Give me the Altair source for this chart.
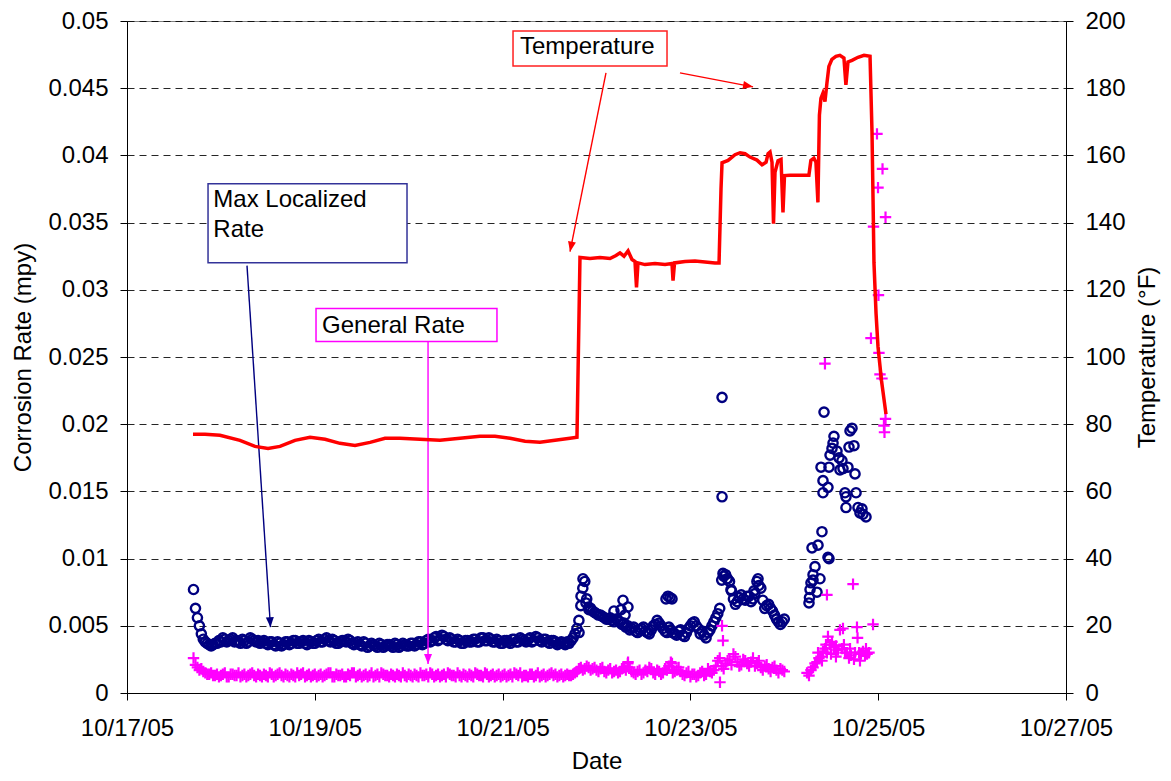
import math
import altair as alt
import pandas as pd

FONT = "Liberation Sans"

# ---------------- data ----------------
# Readings on the hour starting 10/17/05 17:00 (values in 0.001 mpy)
HOURLY_START = "2005-10-17 17:00"
max_localized_hourly = [
    7.7, 5.6, 4.4, 3.8, 3.6, 3.6, 3.7,
    3.8, 4.0, 3.9, 4.1, 3.9, 3.7, 3.9, 3.8, 4.0, 3.8, 3.7, 3.9, 3.6, 3.8, 3.5, 3.7, 3.6, 3.8, 3.7, 3.9, 3.7, 3.9, 3.6, 3.8,
    3.7, 4.0, 3.8, 4.1, 3.8, 3.9, 3.7, 3.9, 3.8, 3.9, 3.6, 3.8, 3.5, 3.7, 3.5, 3.6, 3.4, 3.6, 3.5, 3.6, 3.4, 3.6, 3.5, 3.6,
    3.5, 3.7, 3.6, 3.8, 3.7, 4.0, 3.9, 4.2, 4.0, 4.2, 3.9, 4.0, 3.8, 3.9, 3.7, 3.9, 3.8, 4.0, 3.8, 4.1, 3.9, 4.0, 3.8, 3.9,
    3.7, 3.9, 3.7, 4.0, 3.8, 4.0, 3.8, 4.1, 3.9, 4.1, 3.8, 4.0, 3.7, 3.9, 3.6, 3.8, 3.6, 3.7, 4.1, 4.8, 6.5, 8.3, 6.4, 6.1,
    5.9, 5.8, 5.6, 5.5, 5.4, 5.5, 5.3, 5.2, 5.0, 4.8, 4.6, 4.7, 4.9, 4.5, 4.7, 5.1, 5.2, 4.8, 4.5, 4.7, 4.4, 4.6, 4.3, 4.5,
    5.0, 5.3, 4.8, 4.6, 4.1, 4.7, 5.3, 5.9, 8.4, 8.8, 8.3, 7.0, 6.8, 7.3, 6.9, 7.2, 7.0, 8.3, 7.8, 6.3, 6.6, 6.1, 5.5, 5.1, 5.5,
]
general_hourly = [
    2.6, 1.9, 1.8, 1.5, 1.4, 1.3, 1.4,
    1.3, 1.5, 1.2, 1.4, 1.3, 1.2, 1.4, 1.3, 1.5, 1.2, 1.3, 1.4, 1.2, 1.4, 1.3, 1.5, 1.2, 1.3, 1.4, 1.2, 1.3, 1.5, 1.3, 1.2,
    1.4, 1.3, 1.2, 1.4, 1.5, 1.2, 1.3, 1.4, 1.2, 1.3, 1.5, 1.3, 1.2, 1.4, 1.3, 1.2, 1.4, 1.5, 1.3, 1.2, 1.3, 1.4, 1.2, 1.3,
    1.4, 1.2, 1.3, 1.5, 1.3, 1.2, 1.4, 1.3, 1.2, 1.4, 1.5, 1.3, 1.2, 1.3, 1.4, 1.2, 1.3, 1.5, 1.3, 1.2, 1.4, 1.3, 1.2, 1.4,
    1.3, 1.2, 1.4, 1.5, 1.3, 1.2, 1.3, 1.4, 1.2, 1.5, 1.3, 1.2, 1.4, 1.3, 1.2, 1.4, 1.3, 1.3, 1.4, 1.6, 1.9, 1.8, 1.9, 1.8,
    1.7, 1.8, 1.6, 1.7, 1.5, 1.7, 1.6, 1.9, 2.2, 1.6, 1.4, 1.7, 1.5, 1.6, 1.8, 1.4, 1.6, 1.5, 1.7, 2.3, 1.6, 1.9, 1.4, 1.5,
    1.2, 1.4, 1.3, 1.6, 1.4, 1.6, 1.7, 2.4, 2.0, 2.2, 2.5, 2.9, 2.3, 2.1, 2.4, 2.0, 2.6, 2.2, 1.9, 2.0, 1.8, 1.9, 1.7, 1.8, 1.6,
]

# Readings on the half hour starting 10/17/05 17:30 (values in 0.001 mpy)
HALFHOUR_START = "2005-10-17 17:30"
max_localized_halfhour = [
    6.3, 5.0, 4.0, 3.7, 3.5, 3.7, 3.9,
    4.1, 3.8, 4.0, 3.8, 3.8, 4.0, 3.7, 4.1, 3.9, 3.9, 3.8, 3.7, 3.8, 3.6, 3.8, 3.5, 3.8, 3.6, 3.9, 3.7, 3.8, 3.7, 3.9, 3.7,
    3.9, 3.8, 4.0, 3.9, 4.0, 3.7, 3.8, 3.9, 4.0, 3.7, 3.7, 3.6, 3.8, 3.4, 3.7, 3.5, 3.7, 3.4, 3.6, 3.5, 3.7, 3.4, 3.7, 3.5,
    3.7, 3.5, 3.8, 3.6, 3.9, 3.8, 4.1, 3.9, 4.3, 4.0, 4.1, 3.8, 4.0, 3.7, 3.9, 3.8, 4.0, 3.8, 4.1, 3.9, 4.1, 3.8, 4.0, 3.7,
    3.9, 3.8, 4.0, 3.8, 4.1, 3.9, 4.0, 3.8, 4.2, 3.9, 4.0, 3.8, 3.9,
    3.8, 3.7, 3.7, 3.8, 3.9, 4.4, 5.4, 7.8, 7.0, 6.3,
    6.0, 5.8, 5.7, 5.5, 5.6, 5.3, 5.4, 5.1, 4.9, 4.7,
    4.9, 4.5, 4.8, 4.6, 4.4, 5.0, 5.4, 5.0, 4.6, 4.9,
    4.5, 4.3, 4.7, 4.2, 4.8, 5.2, 5.0, 4.4, 4.3, 4.5,
    5.0, 5.6, 6.3, 8.7, 8.5, 7.6, 6.6, 7.1, 7.0, 7.2,
    6.8, 7.4, 8.0, 6.9, 6.5, 6.3, 5.8, 5.3, 5.3,
]
general_halfhour = [
    2.1, 1.7, 1.6, 1.4, 1.5, 1.3, 1.2,
    1.4, 1.2, 1.4, 1.3, 1.5, 1.3, 1.2, 1.4, 1.3, 1.4, 1.2, 1.3, 1.5, 1.2, 1.4, 1.3, 1.4, 1.2, 1.3, 1.5, 1.4, 1.2, 1.4, 1.3,
    1.2, 1.4, 1.3, 1.5, 1.2, 1.4, 1.3, 1.2, 1.4, 1.5, 1.2, 1.4, 1.3, 1.2, 1.5, 1.3, 1.2, 1.4, 1.3, 1.4, 1.2, 1.3, 1.5, 1.2,
    1.3, 1.4, 1.2, 1.3, 1.4, 1.5, 1.2, 1.4, 1.3, 1.2, 1.4, 1.3, 1.5, 1.2, 1.3, 1.4, 1.2, 1.4, 1.3, 1.5, 1.2, 1.4, 1.3, 1.2,
    1.4, 1.3, 1.2, 1.4, 1.5, 1.3, 1.2, 1.4, 1.3, 1.2, 1.4, 1.3, 1.5,
    1.4, 1.3, 1.2, 1.4, 1.3, 1.5, 1.8, 1.7, 2.0, 1.7,
    1.9, 1.6, 1.9, 1.5, 1.8, 1.6, 1.5, 1.8, 1.7, 1.9,
    1.5, 1.6, 1.4, 1.7, 1.9, 1.5, 1.7, 1.4, 1.8, 2.0,
    1.5, 1.7, 1.6, 1.3, 1.6, 1.4, 1.2, 1.5, 1.3, 1.8,
    1.5, 2.0, 2.6, 1.8, 2.4, 2.1, 2.7, 2.0, 2.5, 2.2,
    2.3, 2.0, 2.4, 1.7, 2.1, 1.6, 2.0, 1.5, 1.7,
]

# Irregular readings: day of October 2005 (fractional) and value (0.001 mpy)
max_localized_extra_day = [
    21.814, 21.835, 21.856, 21.888, 21.920, 22.186, 22.261, 22.282, 22.304, 22.335,
    22.740, 22.761, 22.783, 22.804, 23.337, 23.337, 23.347, 23.390, 23.432, 23.677, 23.720,
    24.263, 24.268, 24.274, 24.284, 24.306, 24.327, 24.295, 24.359, 24.401, 24.465, 24.476, 24.380, 24.306, 24.348,
    24.423, 24.391, 24.476, 24.412, 24.465, 24.412, 24.487, 24.508, 24.519, 24.529,
    24.561, 24.583, 24.614, 24.593, 24.625, 24.678, 24.753, 24.700, 24.721, 24.689,
    24.742, 24.646, 24.657, 24.657, 24.764, 24.785, 24.806, 24.838, 24.870, 24.827,
]
max_localized_extra_val = [
    4.5, 7.2, 8.5, 6.7, 6.2, 6.1, 6.2, 6.9, 5.8, 6.4,
    7.0, 7.2, 7.1, 7.0, 22.0, 14.6, 8.9, 8.5, 7.7, 7.6, 8.5,
    6.7, 7.1, 7.7, 8.2, 8.8, 9.4, 10.8, 11.0, 12.0, 10.1, 10.0, 8.5, 8.4, 7.5,
    20.9, 16.8, 16.8, 15.8, 15.3, 14.9, 17.7, 18.2, 18.6, 19.1,
    18.0, 17.5, 17.3, 16.6, 16.7, 16.8, 16.3, 19.5, 19.7, 18.3,
    18.4, 14.9, 14.6, 13.8, 14.9, 13.8, 13.4, 13.3, 13.1, 13.7,
]
general_extra_day = [
    23.337, 23.347, 23.315, 22.336, 22.804,
    24.242, 24.263, 24.284, 24.306, 24.327, 24.348, 24.369, 24.391, 24.412, 24.433,
    24.454, 24.465, 24.487, 24.508, 24.529, 24.550, 24.571, 24.593, 24.614, 24.625,
    24.646, 24.668, 24.689, 24.710, 24.732, 24.753, 24.774, 24.780, 24.796, 24.817,
    24.838, 24.859, 24.881, 24.902, 24.945, 24.454, 24.433,
    24.359, 24.401, 24.444, 24.497, 24.550, 24.635, 24.700, 24.742, 24.806, 24.870,
    24.923, 24.950, 24.987, 24.998, 25.046, 25.078, 25.003, 25.008, 25.019, 25.040, 25.078, 25.061, 25.067,
]
general_extra_val = [
    5.0, 3.9, 0.8, 2.3, 2.2,
    1.5, 1.3, 1.7, 1.9, 2.2, 2.3, 2.6, 2.7, 3.1, 3.3,
    3.0, 4.2, 3.6, 3.8, 3.4, 3.5, 3.2, 4.7, 3.3, 4.8,
    3.0, 3.0, 2.6, 2.8, 8.1, 3.0, 4.9, 4.1, 3.0, 2.9,
    3.1, 2.8, 2.9, 3.0, 5.1, 7.3, 24.5,
    3.0, 2.4, 3.6, 2.9, 2.7, 3.6, 3.3, 2.5, 2.4, 3.3,
    26.4, 34.7, 41.6, 37.6, 39.0, 35.4, 29.6, 25.3, 23.7, 23.4, 20.4, 19.9, 19.4,
]

# Temperature (deg F), day of October 2005
temp_day = [
    17.703, 17.831, 17.990, 18.203, 18.363, 18.502, 18.629, 18.789, 18.949, 19.109,
    19.268, 19.428, 19.588, 19.748, 19.907, 20.120, 20.333, 20.546, 20.759, 20.919,
    21.079, 21.239, 21.398, 21.558, 21.718, 21.792, 21.824,
    21.931, 22.037, 22.144, 22.208, 22.250, 22.293, 22.336, 22.378, 22.410, 22.426,
    22.442, 22.517, 22.623, 22.730, 22.804, 22.815, 22.831, 22.943, 23.049, 23.156,
    23.262, 23.305, 23.326, 23.337, 23.401, 23.475, 23.529, 23.582, 23.635, 23.709,
    23.763, 23.806, 23.827, 23.848, 23.869, 23.885, 23.901, 23.933, 23.965, 23.986,
    24.002, 24.061, 24.167, 24.262, 24.283, 24.315, 24.337, 24.358, 24.374, 24.390,
    24.411, 24.433, 24.454, 24.475, 24.507, 24.550, 24.592, 24.635, 24.656, 24.678,
    24.721, 24.785, 24.849, 24.913, 24.934, 24.945, 24.955, 24.977, 24.998, 25.035,
    25.083,
]
temp_f = [
    77.0, 77.0, 76.7, 75.2, 73.4, 72.8, 73.4, 75.2, 76.1, 75.5,
    74.3, 73.7, 74.6, 75.8, 75.8, 75.5, 75.2, 75.8, 76.4, 76.4,
    75.8, 74.9, 74.6, 75.2, 75.8, 76.1, 129.6,
    129.3, 129.6, 129.3, 130.2, 131.0, 130.0, 131.6, 129.0, 128.4, 120.7,
    128.0, 127.5, 127.8, 127.5, 127.8, 122.7, 128.0, 128.4, 128.6, 128.3,
    128.0, 128.0, 150.0, 157.8, 158.5, 160.2, 160.8, 160.5, 159.5, 158.6,
    157.2, 158.0, 160.5, 161.0, 158.0, 139.7, 155.0, 158.4, 158.8, 143.0,
    154.0, 154.1, 154.1, 154.1, 158.5, 159.2, 158.0, 146.0, 172.0, 177.0,
    178.5, 176.0, 181.5, 186.5, 188.6, 189.5, 189.8, 189.0, 181.0, 187.8,
    188.3, 189.2, 189.8, 189.5, 167.0, 147.0, 128.0, 113.0, 103.0, 93.0,
    83.0,
]

# Annotations (day of October 2005, corrosion-rate axis values in mpy)
box_day1 = [21.111, 17.863, 19.013]
box_day2 = [22.751, 19.982, 20.940]
box_top = [0.04926, 0.03789, 0.02860]
box_bottom = [0.04666, 0.03202, 0.02615]
box_color = ["#FF2020", "#333399", "#FF00FF"]

label_text = ["Temperature", "Max Localized", "Rate", "General Rate"]
label_day = [21.185, 17.919, 17.919, 19.077]
label_val = [0.04753, 0.03618, 0.03390, 0.02675]

arrow_start_day = [22.101, 22.889, 18.278, 20.206]
arrow_start_val = [0.04614, 0.04614, 0.03180, 0.02615]
arrow_tip_day = [21.718, 23.667, 18.528, 20.206]
arrow_tip_val = [0.03284, 0.04510, 0.00490, 0.00215]
arrow_color = ["#FF0000", "#FF0000", "#000080", "#FF00FF"]

# ---------------- build ----------------
W, H = 939, 672
X_DAYS, Y_MAX = 10.0, 0.05
BASE = pd.Timestamp("2005-10-01")


def to_ts(days):
    return [(BASE + pd.to_timedelta(d - 1, unit="D")).round("s") for d in days]


def series_times(start, values):
    return list(pd.date_range(start, periods=len(values), freq="h"))


circ_df = pd.DataFrame({
    "t": series_times(HOURLY_START, max_localized_hourly)
    + series_times(HALFHOUR_START, max_localized_halfhour)
    + to_ts(max_localized_extra_day),
    "rate": [v / 1000 for v in max_localized_hourly + max_localized_halfhour + max_localized_extra_val],
})
plus_df = pd.DataFrame({
    "t": series_times(HOURLY_START, general_hourly)
    + series_times(HALFHOUR_START, general_halfhour)
    + to_ts(general_extra_day),
    "rate": [v / 1000 for v in general_hourly + general_halfhour + general_extra_val],
})
temp_df = pd.DataFrame({"t": to_ts(temp_day), "temp": temp_f})

box_df = pd.DataFrame({
    "t": to_ts(box_day1), "t2": to_ts(box_day2),
    "rate": box_top, "rate2": box_bottom, "col": box_color,
})
label_df = pd.DataFrame({"t": to_ts(label_day), "rate": label_val, "txt": label_text})

angles = []
for sd, sv, td, tv in zip(arrow_start_day, arrow_start_val, arrow_tip_day, arrow_tip_val):
    dx = (td - sd) * W / X_DAYS
    dy = -(tv - sv) * H / Y_MAX
    angles.append(math.degrees(math.atan2(-dx, dy)) % 360)

arrow_df = pd.DataFrame({
    "t": to_ts(arrow_start_day), "t2": to_ts(arrow_tip_day),
    "rate": arrow_start_val, "rate2": arrow_tip_val, "col": arrow_color,
})
head_df = pd.DataFrame({
    "t": to_ts(arrow_tip_day), "rate": arrow_tip_val, "col": arrow_color, "ang": angles,
})


def dt(d):
    return alt.DateTime(year=2005, month=10, date=d)


x_enc = alt.X(
    "t:T",
    scale=alt.Scale(domain=[dt(17), dt(27)]),
    axis=alt.Axis(
        title="Date", format="%m/%d/%y", values=[dt(d) for d in (17, 19, 21, 23, 25, 27)],
        grid=False, labelFlush=False, labelOverlap=False, tickSize=7,
        labelPadding=16, titlePadding=9,
    ),
)
y_enc = alt.Y(
    "rate:Q",
    scale=alt.Scale(domain=[0, Y_MAX]),
    axis=alt.Axis(
        title="Corrosion Rate (mpy)",
        values=[0, 0.005, 0.01, 0.015, 0.02, 0.025, 0.03, 0.035, 0.04, 0.045, 0.05],
        format=".3~f", grid=True, gridDash=[7, 5], gridColor="#000000", gridOpacity=0.85,
        gridWidth=1, tickSize=7, labelPadding=12, titlePadding=12,
    ),
)
y_temp = alt.Y(
    "temp:Q",
    scale=alt.Scale(domain=[0, 200]),
    axis=alt.Axis(
        orient="right", title="Temperature (°F)", values=list(range(0, 201, 20)),
        grid=False, tickSize=7, labelPadding=12, titlePadding=34, titleAngle=270,
    ),
)

circles = alt.Chart(circ_df).mark_point(
    shape="circle", filled=False, color="#000080", size=85, strokeWidth=2.4, opacity=1
).encode(x=x_enc, y=y_enc)

pluses = alt.Chart(plus_df).mark_point(
    shape="M-1,0L1,0M0,-1L0,1", filled=False, color="#FF00FF", size=130, strokeWidth=2.2, opacity=1
).encode(x=x_enc, y=y_enc)

boxes = alt.Chart(box_df).mark_rect(fill="white", strokeWidth=1.5).encode(
    x=x_enc, x2="t2:T", y=y_enc, y2="rate2:Q", stroke=alt.Stroke("col:N", scale=None)
)
labels = alt.Chart(label_df).mark_text(
    align="left", baseline="alphabetic", font=FONT, fontSize=24, color="black"
).encode(x=x_enc, y=y_enc, text="txt:N")

arrows = alt.Chart(arrow_df).mark_rule(strokeWidth=1.4).encode(
    x=x_enc, x2="t2:T", y=y_enc, y2="rate2:Q", color=alt.Color("col:N", scale=None)
)
heads = alt.Chart(head_df).mark_point(
    shape="M0,0L-0.8,-2L0.8,-2Z", filled=True, size=100, opacity=1, strokeWidth=0
).encode(
    x=x_enc, y=y_enc, color=alt.Color("col:N", scale=None), angle=alt.Angle("ang:Q", scale=None)
)

left = alt.layer(circles, pluses, boxes, labels, arrows, heads)

temp_line = alt.Chart(temp_df).mark_line(color="#FF0000", strokeWidth=3.5).encode(x=x_enc, y=y_temp)

chart = (
    alt.layer(left, temp_line)
    .resolve_scale(y="independent")
    .properties(
        width=W, height=H,
        autosize=alt.AutoSizeParams(type="none"),
        padding={"left": 119, "top": 13, "right": 95, "bottom": 80},
        background="white",
    )
    .configure_view(stroke="#808080", strokeWidth=1)
    .configure_axis(
        labelFont=FONT, titleFont=FONT, labelFontSize=24, titleFontSize=24,
        titleFontWeight="normal", labelColor="black", titleColor="black",
        domainColor="black", tickColor="black", domainWidth=1, tickWidth=1,
    )
)

chart.save("out.html", embed_options={"renderer": "svg", "actions": False})
